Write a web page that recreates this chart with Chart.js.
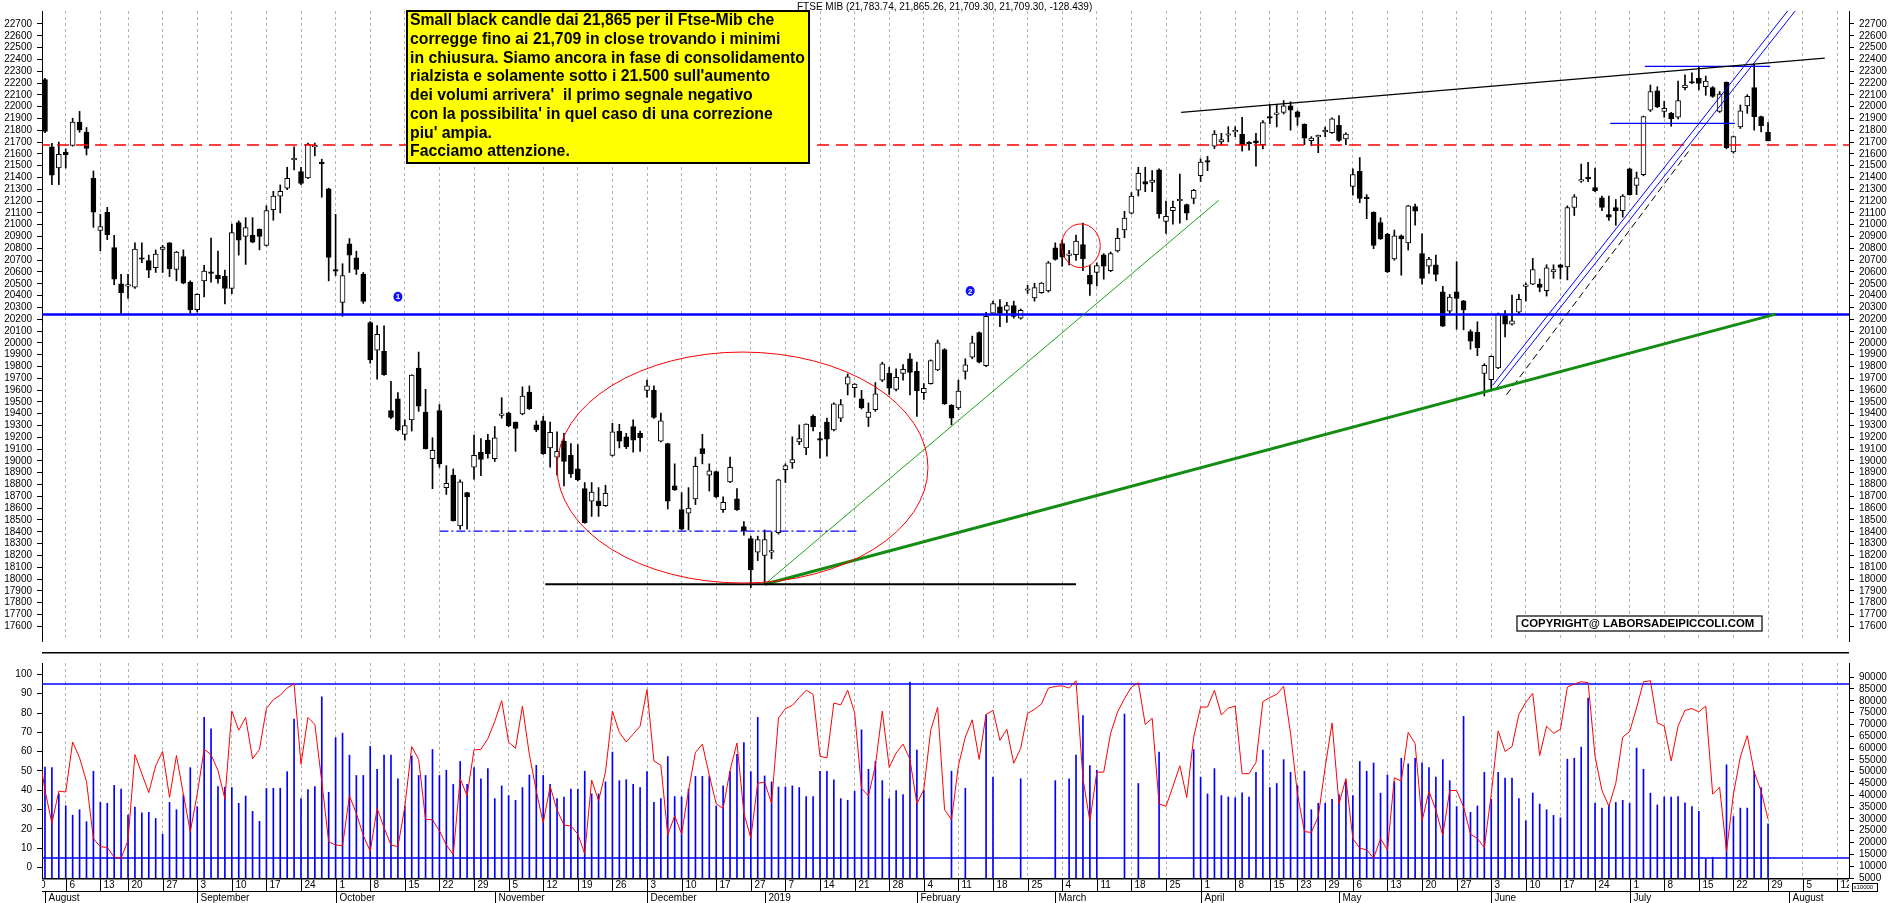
<!DOCTYPE html>
<html><head><meta charset="utf-8">
<script src="https://cdn.jsdelivr.net/npm/chart.js@4.4.1/dist/chart.umd.min.js"></script>
<style>
html,body{margin:0;padding:0;background:#fff;}
#wrap{position:relative;width:1890px;height:903px;overflow:hidden;background:#fff;}
canvas{position:absolute;left:0;}
#top{top:0;} #bot{top:652px;}
</style></head><body>
<div id="wrap"><canvas id="top" width="1890" height="652"></canvas><canvas id="bot" width="1890" height="251"></canvas></div>
<script>
// ---------- DATA (trading-day index 0 = 1 Aug 2018 ... 249 = 29 Jul 2019) ----------
const OPEN = [22230,21660,21481,21616,21671,21870,21785,21392,20951,21106,20806,20500,20480,20471,20720,20697,20637,20792,20847,20621,
20730,20514,20280,20525,20601,20574,20566,20460,21019,20902,20910,20962,20825,21128,21242,21310,21550,21451,21397,21660,
21525,21305,20621,20343,20839,20719,20582,20172,19937,19928,19426,19526,19225,19348,19787,19414,19018,19426,18774,18880,
18449,18731,18946,19075,19176,19018,19385,19405,19328,19397,19583,19305,19339,19110,19032,19167,19047,18932,18765,18659,
18659,18622,19047,19253,19204,19291,19233,19598,19598,19167,19147,18788,18587,18558,18679,19104,18880,18909,18587,18823,
18679,18444,18343,18228,18199,18228,18392,18926,18983,19161,19110,19377,19178,19328,19262,19362,19649,19621,19526,19368,
19434,19684,19741,19606,19741,19865,19759,19578,19655,19770,19942,19471,19448,19758,19879,20086,19807,20252,20304,20275,
20316,20209,20445,20381,20425,20439,20804,20841,20740,20746,20832,20574,20597,20746,20611,20778,20956,21099,21292,21366,
21358,21464,21028,21120,21203,21171,21223,21415,21539,21665,21702,21758,21786,21768,21697,21711,21678,21916,21935,21951,
22006,21956,21850,21711,21744,21787,21779,21842,21727,21324,21452,21225,21105,21018,20920,20710,20906,20846,21154,20756,
20650,20661,20432,20268,20432,20355,20096,20088,19741,19687,19788,20241,20159,20260,20478,20497,20497,20442,20601,20661,
20642,21146,21370,21392,21315,21228,21086,21146,21119,21474,21332,21425,21970,22134,21959,21943,21910,22161,22205,22243,
22169,22161,21959,22205,21616,21828,22006,22161,21916,21784];
const HIGH = [22240,21690,21700,21643,21902,21960,21823,21455,21088,21147,20910,20579,20579,20847,20847,20743,20787,20825,20850,20775,
20787,20525,20416,20656,20888,20776,20615,21005,21033,21060,21060,20965,21160,21283,21337,21487,21659,21487,21692,21692,
21555,21310,21088,20670,20883,20776,20596,20180,20146,20143,19673,19578,19348,19730,19922,19606,19196,19477,18960,18932,
18840,18735,19219,19190,19225,19291,19535,19414,19330,19627,19635,19339,19377,19328,19247,19233,19147,19138,18817,18817,
18774,18794,19319,19310,19233,19348,19253,19684,19635,19405,19150,18975,18731,18774,19032,19225,18975,18915,18696,19032,
18765,18487,18363,18363,18415,18400,18845,18975,19204,19305,19315,19391,19242,19362,19492,19520,19736,19655,19598,19491,
19664,19836,19793,19779,19816,19908,19836,19655,19856,20023,19951,19477,19684,19865,20057,20094,20258,20353,20367,20344,
20353,20287,20488,20505,20511,20689,20847,20870,20784,20913,21013,20654,20677,20755,20769,20970,21114,21272,21487,21487,
21458,21473,21200,21200,21430,21175,21300,21559,21579,21797,21774,21831,21831,21910,21705,21774,21883,22019,22019,22052,
22041,21965,21855,21746,21760,21828,21905,21924,21779,21474,21569,21255,21110,21059,20928,20955,20914,21165,21174,20922,
20724,20743,20478,20410,20688,20360,20110,20178,19823,19890,20251,20273,20404,20410,20505,20715,20541,20661,20661,20665,
21160,21255,21514,21528,21479,21242,21242,21214,21255,21479,21446,21920,22183,22169,22046,21951,22216,22270,22287,22341,
22259,22170,22128,22210,21752,22014,22101,22360,21920,21865];
const LOW = [21780,21340,21340,21480,21665,21783,21591,20978,20780,20874,20492,20246,20375,20460,20678,20552,20596,20596,20561,20525,
20500,20252,20260,20389,20514,20506,20329,20416,20743,20664,20847,20787,20820,21038,21100,21297,21465,21340,21390,21583,
21233,20525,20569,20225,20596,20579,20334,19827,19693,19725,19357,19255,19176,19253,19420,19100,18765,18946,18716,18490,
18421,18421,18846,18874,19024,18995,19362,19290,19081,19390,19435,19247,19055,18946,18880,18788,18860,18832,18472,18530,
18530,18615,19040,19110,19104,19075,19081,19540,19360,19160,18593,18750,18415,18415,18630,18975,18745,18688,18564,18815,
18580,18372,17927,18156,17955,18171,18380,18817,18937,19138,19052,19253,19024,19041,19255,19333,19558,19540,19440,19291,
19420,19672,19563,19592,19684,19558,19377,19520,19650,19765,19478,19305,19434,19693,19865,19830,19798,20238,20137,20172,
20209,20200,20419,20353,20419,20430,20700,20648,20660,20697,20611,20402,20482,20539,20603,20769,20890,21091,21243,21280,
21280,21056,20927,21005,21013,21042,21177,21366,21458,21645,21674,21702,21746,21624,21632,21495,21643,21856,21828,21938,
21801,21842,21678,21670,21610,21746,21774,21705,21678,21250,21187,21051,20797,20875,20595,20700,20573,20786,20996,20497,
20587,20524,20137,20252,20115,20110,19946,19891,19550,19605,19782,20050,20150,20246,20355,20492,20432,20396,20546,20541,
20533,21078,21359,21365,21280,21119,21037,20996,21064,21250,21255,21414,21959,21992,21910,21834,21896,22142,22194,22142,
22096,22079,21951,21643,21605,21815,21943,21801,21787,21709];
const CLOSE = [21790,21420,21596,21594,21870,21802,21646,21106,20984,20915,20539,20424,20488,20793,20708,20615,20752,20811,20629,20768,
20506,20280,20410,20607,20588,20542,20460,20934,20869,20975,20853,20902,21119,21242,21283,21392,21558,21350,21684,21665,
21518,20723,20607,20569,20743,20621,20350,19856,20071,19730,19368,19262,19299,19727,19463,19104,19090,18975,18811,18495,
18823,18696,19047,19012,19061,19196,19395,19299,19276,19549,19443,19262,19061,19242,19081,18995,18889,18840,18478,18736,
18622,18725,19247,19167,19118,19176,19196,19635,19368,19339,18659,18754,18421,18601,18955,19061,18917,18696,18650,18946,
18587,18409,18076,18334,18334,18230,18840,18960,19012,19190,19311,19291,19176,19184,19483,19477,19713,19650,19448,19414,
19569,19822,19615,19707,19776,19750,19592,19615,19850,20000,19483,19362,19592,19813,20000,19836,20224,20333,20252,20316,
20224,20275,20450,20468,20505,20677,20706,20726,20750,20861,20712,20496,20654,20649,20755,20884,21056,21243,21435,21343,
21378,21091,21071,21148,21206,21099,21292,21530,21530,21768,21722,21762,21790,21678,21686,21692,21866,21902,21938,22006,
21970,21910,21733,21733,21748,21801,21896,21714,21768,21425,21223,21220,20824,20879,20601,20906,20879,21160,21114,20546,
20710,20579,20142,20388,20377,20279,20014,19960,19810,19886,20246,20159,20186,20369,20492,20620,20470,20636,20620,20639,
21146,21236,21375,21388,21288,21146,21064,21119,21242,21255,21397,21916,22128,21997,21986,21896,22052,22183,22200,22197,
22216,22087,22107,21651,21746,21965,22087,21916,21838,21709];
// volume (index 0..249, null = no bar)
const VOLUME = [52000,51700,40600,35600,31600,33900,28800,50200,37000,36600,44200,42600,31600,35000,32600,32800,30200,23500,37000,33900,
40200,51700,35200,73000,68100,43700,43500,43300,36600,39700,33200,29000,42900,43000,43000,50000,72300,38600,42400,43700,
81700,41300,64400,66300,57000,48400,48400,60700,51000,57000,57000,47000,35500,56700,48400,48400,59400,48400,50600,44600,
54300,44600,51700,47000,51300,38600,44000,39900,37900,43300,48600,52700,48400,44600,38600,39300,42600,42600,50200,40600,
40600,45700,58300,46200,46600,44600,43300,50000,37000,38600,56400,39500,39300,42600,48000,48000,48000,35500,44000,50200,
57300,62300,50000,73000,48200,45700,43500,43500,44000,43300,39500,39500,50200,50200,46600,38600,37900,41700,67700,51000,
54300,46200,38600,42000,40300,87900,59100,42200,null,null,null,50200,null,43000,null,null,74100,47700,null,null,
null,47000,null,null,null,null,46200,null,47000,57000,73700,52600,50600,null,null,null,74400,null,45000,null,
null,58300,null,null,null,null,59400,47700,40600,51300,39900,39300,39000,41000,39300,49700,59100,43300,45000,55100,
49700,44000,50200,33900,36600,36600,38300,40300,46000,39900,54300,50200,53700,40900,48600,45700,55700,53300,55700,53700,
51700,47700,55100,46200,35200,73400,32800,35500,49700,38300,49700,47300,47300,38600,29200,41000,36300,33900,31500,30500,
55300,55700,60400,81100,36600,34600,35900,37000,37900,36600,60000,51000,40900,35900,39300,39300,39500,36800,35200,33200,
13100,13800,null,52900,31000,34600,34600,50200,43300,27900];
// oscillator (index -1 .. 249)
const OSC_FIRST_INDEX = -1;
const OSC = [62,40,23,39.6,39.1,65,56.8,44.5,15,10.8,10.4,5.4,4.8,14.1,58.5,48.6,38.8,52.7,60.1,36.3,
58,38,18.6,38,61.2,58.5,50.3,35.5,81,71.1,77.7,56.3,61.2,82.3,86.9,89.2,93,95.1,53.5,77.7,
74.1,44.5,13.3,11.7,11.3,37.1,28,16.6,8.4,30.6,20.7,11.7,10.8,31.4,62.6,56,24.8,24.8,19,11.7,
6.7,46.1,37.1,60.9,61.2,66.7,75.7,86.4,65,61.7,83.6,58.5,39.6,23.2,42.1,29.7,22,21.5,17.4,7.1,
45.3,34.6,49.4,81,70,65,69.1,73.2,92.1,55.2,53,16.9,26.8,17.4,39.9,59.6,63.9,47.8,33,30.6,
50.3,64.5,28.1,15.3,43.7,44.2,33.3,77.4,82.3,83.9,88,91.8,89.7,57.6,56.8,85.2,84.2,91.8,80.3,40.9,
37.1,52.7,81,51.9,59.3,63.9,56,33,40.4,71.1,83,30,24.8,52.7,67.5,76.5,56,79.3,81.4,65.9,
71.6,54,61.7,79.8,81.9,84.7,92.9,93.8,94.1,92.9,96.7,46.1,24,49.4,49.4,69.5,80.6,87.5,93.4,95.7,
74.1,77.3,33,31.7,42,52.7,36.3,67.5,83.1,83.1,91.8,79,82.6,83.6,48.6,48.6,54.4,85.9,88,89.7,
93.8,69.5,38,18.6,18.2,26.4,51.9,74.9,33,46.1,15,10,9.2,4.8,15,9.2,46.5,44.8,70,64.2,
24,39.6,29.7,16.6,39.9,39.9,31.4,17.4,15,10.4,38,70.8,60.1,62.6,79.3,85.6,90.2,58,73.2,69.5,
71.6,93.4,95.1,96.2,95.7,57.6,39.9,31.7,43.7,67.5,70.4,82.6,96.2,96.7,74.9,73.2,55.2,73.2,81.4,82.3,
80.6,83.6,38,41.6,8.4,38,57.3,68.3,49.4,39.6,25.1];
// axis ticks / labels
const PRICE_TICKS = [17600,17700,17800,17900,18000,18100,18200,18300,18400,18500,18600,18700,18800,18900,19000,19100,19200,19300,19400,19500,
19600,19700,19800,19900,20000,20100,20200,20300,20400,20500,20600,20700,20800,20900,21000,21100,21200,21300,21400,21500,
21600,21700,21800,21900,22000,22100,22200,22300,22400,22500,22600,22700];
const OSC_TICKS = [0,10,20,30,40,50,60,70,80,90,100];
const VOL_TICKS = [5000,10000,15000,20000,25000,30000,35000,40000,45000,50000,55000,60000,65000,70000,75000,80000,85000,90000];
const WEEK_TICK_IDX = [-2,3,8,12,17,22,27,32,37,42,47,52,57,62,67,72,77,82,87,92,97,102,107,112,117,122,127,132,137,142,147,152,157,162,167,172,177,181,185,189,194,199,204,209,214,219,224,229,234,239,244,249,254,259];
const WEEK_TICK_LABELS = ['30','6','13','20','27','3','10','17','24','1','8','15','22','29','5','12','19','26','3','10','17','27','7','14','21','28','4','11','18','25','4','11','18','25','1','8','15','23','29','6','13','20','27','3','10','17','24','1','8','15','22','29','5','12'];
const MONTH_IDX = [0,22,42,65,87,104,126,146,167,187,209,229,252];
const MONTH_LABELS = ['August','September','October','November','December','2019','February','March','April','May','June','July','August'];
// annotation lines [index, price]
const RESIST_RED = [[-1,21675],[262,21675]];
const SUPPORT_BLUE = [[-1,20240],[262,20240]];
const DEC_LOW_BLACK = [[72.3,17955],[149,17955]];
const DASHDOT_BLUE = [[57,18405],[117.5,18405]];
const GREEN_THIN = [[104,17955],[169.6,21206]];
const GREEN_THICK = [[104,17955],[250.1,20243]];
const TOP_BLACK = [[164.2,21952],[257.2,22411]];
const JUL_HIGH_BLUE = [[231.2,22341],[249.3,22341]];
const JUL_MID_BLUE = [[226.2,21858],[244.2,21858]];
const CHAN_A = [[209.2,19640],[252.5,22860]];
const CHAN_B = [[209.8,19620],[253.6,22860]];
const CHAN_DASH = [[211.2,19560],[237.5,21620]];
const OSC_HI = [[-1,95],[262,95]];
const OSC_LO = [[-1,5],[262,5]];
const ELLIPSE = {cx:100.8, cy:18944, rx:26.8, ry:978};
const SMALL_CIRCLE = {cx:149.7, cy:20822, rx:2.8, ry:185};
const MARKERS = [{x:51, y:20390, t:'1'},{x:133.7, y:20439, t:'2'}];
const HEADER = 'FTSE MIB (21,783.74, 21,865.26, 21,709.30, 21,709.30, -128.439)';
const NOTE_LINES = ['Small black candle dai 21,865 per il Ftse-Mib che','corregge fino ai 21,709 in close trovando i minimi','in chiusura. Siamo ancora in fase di consolidamento',"rialzista e solamente sotto i 21.500 sull'aumento","dei volumi arrivera'  il primo segnale negativo","con la possibilita' in quel caso di una correzione","piu' ampia.",'Facciamo attenzione.'];
const COPYRIGHT = 'COPYRIGHT@ LABORSADEIPICCOLI.COM';

// ---------- layout constants ----------
const X_MIN = -0.43, X_MAX = 260.7;
const FONT = '"Liberation Sans", Arial, sans-serif';
Chart.defaults.font.family = FONT;
Chart.defaults.font.size = 10;
Chart.defaults.color = '#000';

const seg = pts => pts.map(p => ({x:p[0], y:p[1]}));
function lineDS(pts, color, width, dash, axis, order){
  return {type:'line', data:seg(pts), borderColor:color, borderWidth:width, borderDash:dash||[],
    pointRadius:0, fill:false, tension:0, yAxisID:axis, order:order};
}
const xScaleBase = {
  type:'linear', min:X_MIN, max:X_MAX, offset:false,
  afterBuildTicks: a => { a.ticks = WEEK_TICK_IDX.filter(v => v >= X_MIN && v <= X_MAX).map(v => ({value:v})); },
  ticks:{display:false},
  grid:{display:true, drawOnChartArea:true, drawTicks:false, color:'#b4b4b4', lineWidth:1, offset:false},
  border:{display:false, dash:[3,3]}
};
function yAxis(pos, min, max, ticks, width){
  return {type:'linear', position:pos, min:min, max:max,
    afterBuildTicks: a => { a.ticks = ticks.map(v => ({value:v})); },
    afterFit: s => { s.width = width; },
    ticks:{autoSkip:false, padding:5, color:'#000', font:{size:10}, callback: v => String(v)},
    grid:{display:true, drawOnChartArea:false, drawTicks:true, tickLength:5, color:'#000'},
    border:{display:true, color:'#000', width:1}};
}

// ---------- TOP CHART ----------
const bodies = OPEN.map((o,i) => ({x:i, y:[o, CLOSE[i]]}));
const wicks = LOW.map((l,i) => ({x:i, y:[l, HIGH[i]]}));
const bodyFill = OPEN.map((o,i) => CLOSE[i] >= o ? '#ffffff' : '#000000');

const topPlugin = {
  id:'topAnno',
  afterDatasetsDraw(chart){
    const {ctx, scales:{x, y}} = chart;
    const ca = chart.chartArea;
    ctx.save();
    ctx.beginPath(); ctx.rect(ca.left, ca.top, ca.right-ca.left, ca.bottom-ca.top); ctx.clip();
    ctx.strokeStyle = '#ff0000'; ctx.lineWidth = 1;
    [ELLIPSE, SMALL_CIRCLE].forEach(e => {
      const cx = x.getPixelForValue(e.cx), cy = y.getPixelForValue(e.cy);
      const rx = Math.abs(x.getPixelForValue(e.cx+e.rx) - cx), ry = Math.abs(y.getPixelForValue(e.cy+e.ry) - cy);
      ctx.beginPath(); ctx.ellipse(cx, cy, rx, ry, 0, 0, Math.PI*2); ctx.stroke();
    });
    ctx.font = 'bold 8px ' + FONT; ctx.textAlign = 'center'; ctx.textBaseline = 'middle';
    MARKERS.forEach(m => {
      const px = x.getPixelForValue(m.x), py = y.getPixelForValue(m.y);
      ctx.fillStyle = '#1010ff'; ctx.beginPath(); ctx.ellipse(px, py, 4.5, 5, 0, 0, Math.PI*2); ctx.fill();
      ctx.fillStyle = '#ffffff'; ctx.fillText(m.t, px, py+0.5);
    });
    ctx.restore();
  },
  afterDraw(chart){
    const ctx = chart.ctx;
    ctx.save();
    ctx.font = '10px ' + FONT; ctx.fillStyle = '#000'; ctx.textAlign = 'left'; ctx.textBaseline = 'middle';
    ctx.fillText(HEADER, 797, 7);
    // yellow note box
    ctx.fillStyle = '#ffff00'; ctx.fillRect(407, 11, 402, 152);
    ctx.strokeStyle = '#000'; ctx.lineWidth = 2; ctx.strokeRect(407, 11, 402, 152);
    ctx.fillStyle = '#000'; ctx.font = 'bold 15.8px ' + FONT;
    NOTE_LINES.forEach((t,k) => ctx.fillText(t, 410, 21 + 18.7*k));
    // copyright box
    ctx.fillStyle = '#fff'; ctx.fillRect(1517, 616, 245, 15);
    ctx.lineWidth = 1.2; ctx.strokeRect(1517, 616, 245, 15);
    ctx.fillStyle = '#000'; ctx.font = 'bold 11.4px ' + FONT;
    ctx.fillText(COPYRIGHT, 1521, 624);
    ctx.restore();
  }
};

new Chart(document.getElementById('top'), {
  type:'bar',
  data:{datasets:[
    lineDS(RESIST_RED, '#ff0000', 1.5, [12,7], 'y', 3),
    lineDS(SUPPORT_BLUE, '#0000ff', 2.5, [], 'y', 3),
    lineDS(DEC_LOW_BLACK, '#000000', 2, [], 'y', 2),
    lineDS(DASHDOT_BLUE, '#0000ff', 1.2, [9,3,2,3], 'y', 2),
    lineDS(GREEN_THIN, '#17a317', 1, [], 'y', 2),
    lineDS(GREEN_THICK, '#128c12', 3, [], 'y', 2),
    lineDS(TOP_BLACK, '#000000', 1.2, [], 'y', 2),
    lineDS(JUL_HIGH_BLUE, '#0000ff', 1.2, [], 'y', 2),
    lineDS(JUL_MID_BLUE, '#0000ff', 1.2, [], 'y', 2),
    lineDS(CHAN_A, '#0000ff', 1, [], 'y', 2),
    lineDS(CHAN_B, '#0000ff', 1, [], 'y', 2),
    lineDS(CHAN_DASH, '#000000', 1, [7,4], 'y', 2),
    {type:'bar', data:bodies, backgroundColor:bodyFill, borderColor:'#000', borderWidth:1, borderSkipped:false,
      barThickness:5, maxBarThickness:5, grouped:false, minBarLength:1.5, yAxisID:'y', order:8},
    {type:'bar', data:wicks, backgroundColor:'#000', borderWidth:0, barThickness:1, maxBarThickness:1,
      grouped:false, yAxisID:'y', order:9}
  ]},
  options:{
    responsive:false, animation:false, events:[], devicePixelRatio:1,
    layout:{padding:0, autoPadding:false},
    plugins:{legend:{display:false}, tooltip:{enabled:false}, title:{display:false}},
    scales:{
      x: Object.assign({}, xScaleBase, {afterFit: s => { s.height = 0; }}),
      y: yAxis('left', 17475, 22810, PRICE_TICKS, 42),
      y2: yAxis('right', 17475, 22810, PRICE_TICKS, 41)
    }
  },
  plugins:[topPlugin]
});

// ---------- BOTTOM CHART ----------
const volData = [];
VOLUME.forEach((v,i) => { if (v !== null) volData.push({x:i, y:v}); });
const oscData = OSC.map((v,k) => ({x:k + OSC_FIRST_INDEX, y:v}));

const botPlugin = {
  id:'dateAxis',
  afterDraw(chart){
    const {ctx, scales:{x}} = chart;
    const ca = chart.chartArea;
    ctx.save();
    ctx.strokeStyle = '#000'; ctx.lineWidth = 1.5;
    ctx.beginPath(); ctx.moveTo(ca.left, 0.75); ctx.lineTo(ca.right, 0.75); ctx.stroke();
    ctx.beginPath(); ctx.moveTo(ca.left, ca.bottom + 0.75); ctx.lineTo(ca.right, ca.bottom + 0.75); ctx.stroke();
    const sepY = ca.bottom + 13;
    ctx.lineWidth = 1;
    ctx.beginPath(); ctx.moveTo(ca.left, sepY + 0.5); ctx.lineTo(ca.right, sepY + 0.5); ctx.stroke();
    // x10000 box
    ctx.strokeRect(1852.5, 231.5, 25, 8);
    ctx.font = '6px ' + FONT; ctx.fillStyle = '#000'; ctx.textBaseline = 'middle'; ctx.textAlign = 'left';
    ctx.fillText('x10000', 1853.5, 235.8);
    ctx.beginPath(); ctx.rect(ca.left, ca.bottom, ca.right - ca.left, 40); ctx.clip();
    ctx.font = '10px ' + FONT;
    WEEK_TICK_IDX.forEach((idx,k) => {
      const px = Math.round(x.getPixelForValue(idx)) + 0.5;
      ctx.beginPath(); ctx.moveTo(px, ca.bottom); ctx.lineTo(px, sepY); ctx.stroke();
      ctx.fillText(WEEK_TICK_LABELS[k], px + 3, ca.bottom + 7.5);
    });
    MONTH_IDX.forEach((idx,k) => {
      const px = Math.round(x.getPixelForValue(idx)) + 0.5;
      ctx.beginPath(); ctx.moveTo(px, sepY); ctx.lineTo(px, sepY + 14); ctx.stroke();
      ctx.fillText(MONTH_LABELS[k], px + 3, sepY + 7.5);
    });
    ctx.restore();
  }
};

new Chart(document.getElementById('bot'), {
  type:'bar',
  data:{datasets:[
    lineDS(OSC_HI, '#0000ff', 1.5, [], 'yOsc', 2),
    lineDS(OSC_LO, '#0000ff', 1.5, [], 'yOsc', 2),
    {type:'line', data:oscData, borderColor:'#ff0000', borderWidth:1, pointRadius:0, tension:0, fill:false, yAxisID:'yOsc', order:1},
    {type:'bar', data:volData, backgroundColor:'#0000ff', borderWidth:0, barThickness:1, maxBarThickness:1, grouped:false, yAxisID:'yVol', order:5}
  ]},
  options:{
    responsive:false, animation:false, events:[], devicePixelRatio:1,
    layout:{padding:0, autoPadding:false},
    plugins:{legend:{display:false}, tooltip:{enabled:false}, title:{display:false}},
    scales:{
      x: Object.assign({}, xScaleBase, {afterFit: s => { s.height = 25; }}),
      yOsc: yAxis('left', -5.4, 105.9, OSC_TICKS, 42),
      yVol: yAxis('right', 5000, 96000, VOL_TICKS, 41)
    }
  },
  plugins:[botPlugin]
});
</script></body></html>
